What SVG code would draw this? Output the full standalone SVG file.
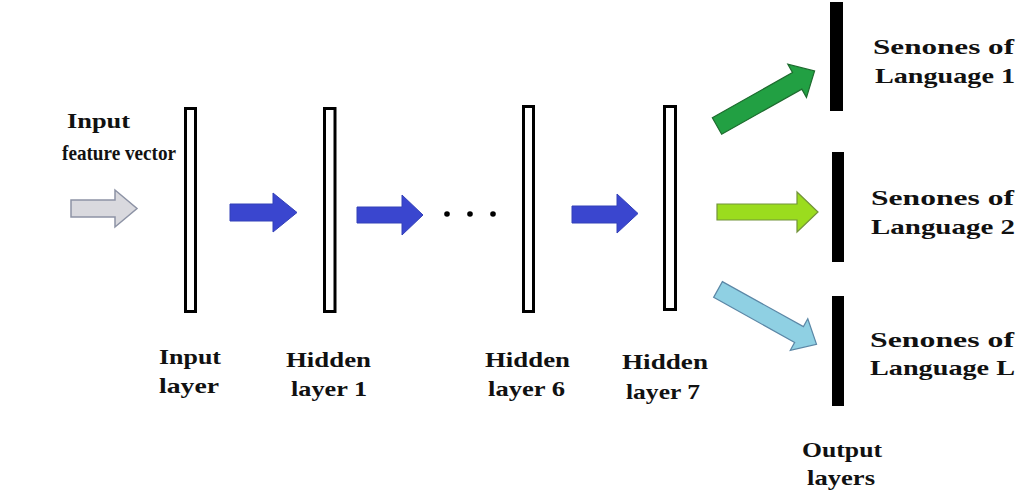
<svg xmlns="http://www.w3.org/2000/svg" width="1028" height="502" viewBox="0 0 1028 502">
<style>
text{font-family:"Liberation Serif","Times New Roman",serif;font-weight:bold;font-size:22px;fill:#111}
.layer{fill:#fff;stroke:#000;stroke-width:3}
.out{fill:#000}
.blue{fill:#3a46cf;stroke:#3340b8;stroke-width:1}
</style>
<rect width="1028" height="502" fill="#fff"/>
<g id="input-feature-vector">
<text x="67" y="128" textLength="63" lengthAdjust="spacingAndGlyphs">Input</text>
<text x="62" y="160" font-size="25" textLength="114" lengthAdjust="spacingAndGlyphs">feature vector</text>
</g>
<g id="input-layer">
<rect class="layer" x="185.5" y="108.5" width="10" height="203"/>
<text x="159" y="364" textLength="62" lengthAdjust="spacingAndGlyphs">Input</text>
<text x="159" y="393" textLength="60" lengthAdjust="spacingAndGlyphs">layer</text>
</g>
<g id="hidden-layer-1">
<rect class="layer" x="324.5" y="108.5" width="10.5" height="203"/>
<text x="286" y="367" textLength="85" lengthAdjust="spacingAndGlyphs">Hidden</text>
<text x="291" y="396" textLength="76" lengthAdjust="spacingAndGlyphs">layer 1</text>
</g>
<g id="hidden-layer-6">
<rect class="layer" x="523.5" y="106.5" width="10" height="205"/>
<text x="485" y="367" textLength="85" lengthAdjust="spacingAndGlyphs">Hidden</text>
<text x="488" y="396" textLength="77" lengthAdjust="spacingAndGlyphs">layer 6</text>
</g>
<g id="hidden-layer-7">
<rect class="layer" x="664.5" y="106.5" width="11" height="203"/>
<text x="622" y="369" textLength="86" lengthAdjust="spacingAndGlyphs">Hidden</text>
<text x="626" y="399" textLength="74" lengthAdjust="spacingAndGlyphs">layer 7</text>
</g>
<g id="dots">
<circle cx="447" cy="214" r="2.8" fill="#000"/>
<circle cx="470" cy="214" r="2.8" fill="#000"/>
<circle cx="493" cy="214" r="2.8" fill="#000"/>
</g>
<g id="output-language-1">
<rect class="out" x="830" y="2" width="13" height="109"/>
<text x="873" y="54" textLength="141" lengthAdjust="spacingAndGlyphs">Senones  of</text>
<text x="875" y="83" textLength="140" lengthAdjust="spacingAndGlyphs">Language 1</text>
</g>
<g id="output-language-2">
<rect class="out" x="832" y="152" width="12" height="110"/>
<text x="871" y="205" textLength="143" lengthAdjust="spacingAndGlyphs">Senones  of</text>
<text x="871" y="234" textLength="144" lengthAdjust="spacingAndGlyphs">Language 2</text>
</g>
<g id="output-language-L">
<rect class="out" x="832" y="296" width="12" height="110"/>
<text x="870" y="347" textLength="144" lengthAdjust="spacingAndGlyphs">Senones  of</text>
<text x="870" y="375" textLength="145" lengthAdjust="spacingAndGlyphs">Language L</text>
</g>
<g id="output-layers-label">
<text x="802" y="457" textLength="80" lengthAdjust="spacingAndGlyphs">Output</text>
<text x="807" y="485" textLength="68" lengthAdjust="spacingAndGlyphs">layers</text>
</g>
<g id="connectors">
<path d="M71,200 L115,200 L115,190 L137,208.5 L115,227 L115,217 L71,217 Z" fill="#d9d9de" stroke="#8d93a5" stroke-width="1.5"/>
<path class="blue" d="M230,204 L273,204 L273,193 L297,212.5 L273,232 L273,221 L230,221 Z"/>
<path class="blue" d="M357,207 L402,207 L402,195 L423,215 L402,235 L402,223 L357,223 Z"/>
<path class="blue" d="M572,206 L617,206 L617,194 L638,213.5 L617,233 L617,223 L572,223 Z"/>
<path transform="translate(717,126) rotate(-29.4)" d="M0,-9.5 L92,-9.5 L92,-19 L112,0 L92,19 L92,9.5 L0,9.5 Z" fill="#22a043" stroke="#1d6b2e" stroke-width="1.2"/>
<path d="M717,204 L797,204 L797,192 L818,212 L797,232 L797,220 L717,220 Z" fill="#9bdc1e" stroke="#72933a" stroke-width="1.2"/>
<path transform="translate(718,289.5) rotate(29.05)" d="M0,-9 L92.7,-9 L92.7,-18 L112.7,0 L92.7,18 L92.7,9 L0,9 Z" fill="#8fd0e3" stroke="#5b87a6" stroke-width="1.2"/>
</g>
</svg>
